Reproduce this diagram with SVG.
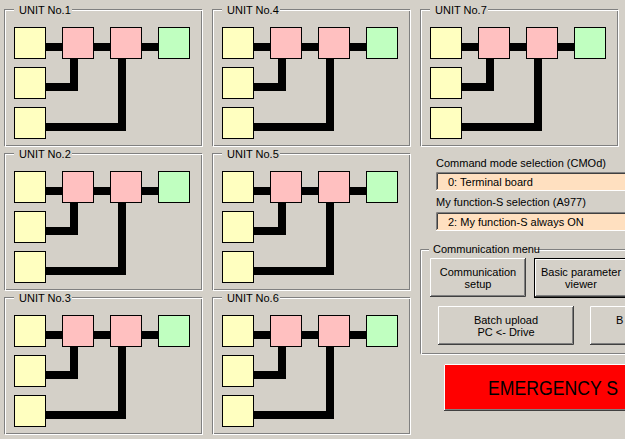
<svg xmlns="http://www.w3.org/2000/svg" xmlns:xlink="http://www.w3.org/1999/xlink" width="625" height="439" viewBox="0 0 625 439">
<style>
text{font-family:"Liberation Sans",Arial,sans-serif;font-size:11px;fill:#000}
.fg{fill:none;stroke:#808080;stroke-width:1}
.fw{fill:none;stroke:#fff;stroke-width:1}
.lb{fill:#D4D0C8}
.y{fill:#FFFFC0;stroke:#000;stroke-width:1}
.p{fill:#FFC0C0;stroke:#000;stroke-width:1}
.g{fill:#C0FFC0;stroke:#000;stroke-width:1}
.c{fill:none;stroke:#000;stroke-width:8;stroke-linejoin:miter}
.mid{text-anchor:middle}
</style>
<rect width="625" height="439" fill="#D4D0C8"/>
<defs>
<g id="frame">
<rect class="fg" x="4.5" y="9.5" width="197" height="136"/>
<rect class="fw" x="5.5" y="10.5" width="197" height="136"/>
<rect class="lb" x="14" y="3" width="58" height="12"/>
</g>
</defs>
<!-- units -->
<g id="unit1">
<use xlink:href="#frame"/>
<text x="19" y="14">UNIT No.1</text>
<g id="unit1-links"><path class="c" d="M46 47H158"/><path class="c" d="M74 59V87H46"/><path class="c" d="M122 59V127H46"/></g>
<g id="unit1-in1"><rect class="y" x="14.5" y="27.5" width="31" height="31"/></g>
<g id="unit1-in2"><rect class="y" x="14.5" y="67.5" width="31" height="31"/></g>
<g id="unit1-in3"><rect class="y" x="14.5" y="107.5" width="31" height="31"/></g>
<g id="unit1-p1"><rect class="p" x="62.5" y="27.5" width="31" height="31"/></g>
<g id="unit1-p2"><rect class="p" x="110.5" y="27.5" width="31" height="31"/></g>
<g id="unit1-out"><rect class="g" x="158.5" y="27.5" width="31" height="31"/></g>
</g>
<g id="unit2" transform="translate(0,144)">
<use xlink:href="#frame"/>
<text x="19" y="14">UNIT No.2</text>
<g id="unit2-links"><path class="c" d="M46 47H158"/><path class="c" d="M74 59V87H46"/><path class="c" d="M122 59V127H46"/></g>
<g id="unit2-in1"><rect class="y" x="14.5" y="27.5" width="31" height="31"/></g>
<g id="unit2-in2"><rect class="y" x="14.5" y="67.5" width="31" height="31"/></g>
<g id="unit2-in3"><rect class="y" x="14.5" y="107.5" width="31" height="31"/></g>
<g id="unit2-p1"><rect class="p" x="62.5" y="27.5" width="31" height="31"/></g>
<g id="unit2-p2"><rect class="p" x="110.5" y="27.5" width="31" height="31"/></g>
<g id="unit2-out"><rect class="g" x="158.5" y="27.5" width="31" height="31"/></g>
</g>
<g id="unit3" transform="translate(0,288)">
<use xlink:href="#frame"/>
<text x="19" y="14">UNIT No.3</text>
<g id="unit3-links"><path class="c" d="M46 47H158"/><path class="c" d="M74 59V87H46"/><path class="c" d="M122 59V127H46"/></g>
<g id="unit3-in1"><rect class="y" x="14.5" y="27.5" width="31" height="31"/></g>
<g id="unit3-in2"><rect class="y" x="14.5" y="67.5" width="31" height="31"/></g>
<g id="unit3-in3"><rect class="y" x="14.5" y="107.5" width="31" height="31"/></g>
<g id="unit3-p1"><rect class="p" x="62.5" y="27.5" width="31" height="31"/></g>
<g id="unit3-p2"><rect class="p" x="110.5" y="27.5" width="31" height="31"/></g>
<g id="unit3-out"><rect class="g" x="158.5" y="27.5" width="31" height="31"/></g>
</g>
<g id="unit4" transform="translate(208,0)">
<use xlink:href="#frame"/>
<text x="19" y="14">UNIT No.4</text>
<g id="unit4-links"><path class="c" d="M46 47H158"/><path class="c" d="M74 59V87H46"/><path class="c" d="M122 59V127H46"/></g>
<g id="unit4-in1"><rect class="y" x="14.5" y="27.5" width="31" height="31"/></g>
<g id="unit4-in2"><rect class="y" x="14.5" y="67.5" width="31" height="31"/></g>
<g id="unit4-in3"><rect class="y" x="14.5" y="107.5" width="31" height="31"/></g>
<g id="unit4-p1"><rect class="p" x="62.5" y="27.5" width="31" height="31"/></g>
<g id="unit4-p2"><rect class="p" x="110.5" y="27.5" width="31" height="31"/></g>
<g id="unit4-out"><rect class="g" x="158.5" y="27.5" width="31" height="31"/></g>
</g>
<g id="unit5" transform="translate(208,144)">
<use xlink:href="#frame"/>
<text x="19" y="14">UNIT No.5</text>
<g id="unit5-links"><path class="c" d="M46 47H158"/><path class="c" d="M74 59V87H46"/><path class="c" d="M122 59V127H46"/></g>
<g id="unit5-in1"><rect class="y" x="14.5" y="27.5" width="31" height="31"/></g>
<g id="unit5-in2"><rect class="y" x="14.5" y="67.5" width="31" height="31"/></g>
<g id="unit5-in3"><rect class="y" x="14.5" y="107.5" width="31" height="31"/></g>
<g id="unit5-p1"><rect class="p" x="62.5" y="27.5" width="31" height="31"/></g>
<g id="unit5-p2"><rect class="p" x="110.5" y="27.5" width="31" height="31"/></g>
<g id="unit5-out"><rect class="g" x="158.5" y="27.5" width="31" height="31"/></g>
</g>
<g id="unit6" transform="translate(208,288)">
<use xlink:href="#frame"/>
<text x="19" y="14">UNIT No.6</text>
<g id="unit6-links"><path class="c" d="M46 47H158"/><path class="c" d="M74 59V87H46"/><path class="c" d="M122 59V127H46"/></g>
<g id="unit6-in1"><rect class="y" x="14.5" y="27.5" width="31" height="31"/></g>
<g id="unit6-in2"><rect class="y" x="14.5" y="67.5" width="31" height="31"/></g>
<g id="unit6-in3"><rect class="y" x="14.5" y="107.5" width="31" height="31"/></g>
<g id="unit6-p1"><rect class="p" x="62.5" y="27.5" width="31" height="31"/></g>
<g id="unit6-p2"><rect class="p" x="110.5" y="27.5" width="31" height="31"/></g>
<g id="unit6-out"><rect class="g" x="158.5" y="27.5" width="31" height="31"/></g>
</g>
<g id="unit7" transform="translate(416,0)">
<use xlink:href="#frame"/>
<text x="19" y="14">UNIT No.7</text>
<g id="unit7-links"><path class="c" d="M46 47H158"/><path class="c" d="M74 59V87H46"/><path class="c" d="M122 59V127H46"/></g>
<g id="unit7-in1"><rect class="y" x="14.5" y="27.5" width="31" height="31"/></g>
<g id="unit7-in2"><rect class="y" x="14.5" y="67.5" width="31" height="31"/></g>
<g id="unit7-in3"><rect class="y" x="14.5" y="107.5" width="31" height="31"/></g>
<g id="unit7-p1"><rect class="p" x="62.5" y="27.5" width="31" height="31"/></g>
<g id="unit7-p2"><rect class="p" x="110.5" y="27.5" width="31" height="31"/></g>
<g id="unit7-out"><rect class="g" x="158.5" y="27.5" width="31" height="31"/></g>
</g>
<!-- selections -->
<g id="cmod">
<text x="436" y="167">Command mode selection (CMOd)</text>
<rect x="436" y="172" width="200" height="19" fill="#FFE0C0"/>
<path d="M436.5 190V172.5H636" fill="none" stroke="#808080"/>
<path d="M437.5 189V173.5H636" fill="none" stroke="#404040"/>
<path d="M436 190.5H636" fill="none" stroke="#fff"/>
<text x="448" y="186">0: Terminal board</text>
</g>
<g id="a977">
<text x="436" y="206">My function-S selection (A977)</text>
<rect x="436" y="212" width="200" height="19" fill="#FFE0C0"/>
<path d="M436.5 230V212.5H636" fill="none" stroke="#808080"/>
<path d="M437.5 229V213.5H636" fill="none" stroke="#404040"/>
<path d="M436 230.5H636" fill="none" stroke="#fff"/>
<text x="448" y="226">2: My function-S always ON</text>
</g>
<!-- communication menu -->
<g id="comm-menu">
<path d="M640 249.5H420.5V353.5H640" fill="none" stroke="#808080"/>
<path d="M640 250.5H421.5V354.5H640" fill="none" stroke="#fff"/>
<rect class="lb" x="429" y="243" width="106" height="12"/>
<text x="433" y="253">Communication menu</text>
</g>
<g id="btn-setup">
<rect x="430" y="258" width="96" height="39" fill="#D4D0C8"/>
<path d="M430.5 296V258.5H525" fill="none" stroke="#fff"/>
<path d="M430 296.5H525.5V258" fill="none" stroke="#404040"/>
<path d="M431 295.5H524.5V259" fill="none" stroke="#808080"/>
<text class="mid" x="478" y="275.5">Communication</text>
<text class="mid" x="478" y="288">setup</text>
</g>
<g id="btn-viewer">
<rect x="534.5" y="258.5" width="100" height="39" fill="#D4D0C8" stroke="#000"/>
<path d="M535.5 296V259.5H640" fill="none" stroke="#fff"/>
<path d="M535 296.5H640" fill="none" stroke="#404040"/>
<path d="M536 295.5H640" fill="none" stroke="#808080"/>
<text class="mid" x="581" y="275.5">Basic parameter</text>
<text class="mid" x="581" y="288">viewer</text>
</g>
<g id="btn-upload">
<rect x="438" y="306" width="136" height="39" fill="#D4D0C8"/>
<path d="M438.5 344V306.5H573" fill="none" stroke="#fff"/>
<path d="M438 344.5H573.5V306" fill="none" stroke="#404040"/>
<path d="M439 343.5H572.5V307" fill="none" stroke="#808080"/>
<text class="mid" x="506" y="323.5">Batch upload</text>
<text class="mid" x="506" y="336">PC &lt;- Drive</text>
</g>
<g id="btn-download">
<rect x="590" y="306" width="50" height="39" fill="#D4D0C8"/>
<path d="M590.5 344V306.5H640" fill="none" stroke="#fff"/>
<path d="M590 344.5H640" fill="none" stroke="#404040"/>
<path d="M591 343.5H640" fill="none" stroke="#808080"/>
<text x="616" y="323.5">B</text>
</g>
<g id="btn-emergency">
<rect x="444" y="364" width="200" height="47" fill="#FF0000"/>
<path d="M444.5 410V364.5H644" fill="none" stroke="#fff"/>
<path d="M444 410.5H644" fill="none" stroke="#404040"/>
<path d="M445 409.5H644" fill="none" stroke="#808080"/>
<text x="488" y="395" style="font-size:20px" textLength="130" lengthAdjust="spacingAndGlyphs">EMERGENCY S</text>
</g>
</svg>
